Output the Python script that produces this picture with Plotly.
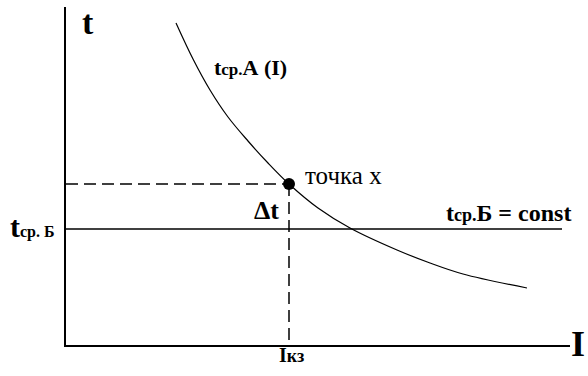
import plotly.graph_objects as go

# curve t_cp.A(I) (arbitrary units)
I_curve = [110, 127, 144, 162, 182, 202, 223, 252, 284, 331, 364, 397, 461]
t_curve = [322, 286, 255, 228, 204, 182, 161, 137, 117, 95, 82, 71, 57]

t_B = 116          # t_cp.Б = const
I_kz = 223         # point x
t_x = 161
I_end = 496

SERIF = "Liberation Serif"

fig = go.Figure()

# constant line
fig.add_trace(go.Scatter(x=[0, I_end], y=[t_B, t_B], mode="lines",
                         line=dict(color="black", width=1.5), cliponaxis=False))
# dashed guides
fig.add_trace(go.Scatter(x=[0, I_kz], y=[t_x, t_x], mode="lines",
                         line=dict(color="black", width=1.5, dash="12px,6px")))
fig.add_trace(go.Scatter(x=[I_kz, I_kz], y=[t_x, 0], mode="lines",
                         line=dict(color="black", width=1.5, dash="12px,6px")))
# curve
fig.add_trace(go.Scatter(x=I_curve, y=t_curve, mode="lines", line_shape="spline",
                         line=dict(color="black", width=1.2), cliponaxis=False))
# point x
fig.add_trace(go.Scatter(x=[I_kz], y=[t_x], mode="markers",
                         marker=dict(color="black", size=12), cliponaxis=False))


def note(x, y, text, size, xanchor="center", xref="x", yref="y"):
    fig.add_annotation(x=x, y=y, text=text, showarrow=False, xanchor=xanchor,
                       xref=xref, yref=yref,
                       font=dict(family=SERIF, size=size, color="black"))


note(22, 323, "<b>t</b>", 34)
note(184, 278, "<b>t<span style='font-size:17px'>ср.</span>А (I)</b>", 22)
note(237, 170, "точка x", 25, xanchor="left")
note(200, 135, "<b>Δt</b>", 26)
note(442, 132, "<b>t<span style='font-size:18px'>ср.</span>Б = const</b>", 24)
note(-0.018, 0.352, "<b>t<span style='font-size:16px'>ср. Б</span></b>", 30,
     xanchor="right", xref="paper", yref="paper")
note(225, -0.068, "<b>I<span style='font-size:18px'>кз</span></b>", 20, yref="paper")
note(1.034, -0.062, "<b>I</b>", 36, xanchor="right", xref="paper", yref="paper")

fig.update_layout(
    width=588, height=376,
    margin=dict(l=66, r=18, t=7, b=31),
    plot_bgcolor="white", paper_bgcolor="white",
    showlegend=False,
    xaxis=dict(range=[0, 504], showgrid=False, zeroline=False, showticklabels=False,
               ticks="", showline=True, linecolor="black", linewidth=2),
    yaxis=dict(range=[0, 338], showgrid=False, zeroline=False, showticklabels=False,
               ticks="", showline=True, linecolor="black", linewidth=2),
)

fig.write_html("out.html", config={"displayModeBar": False},
               post_script="document.body.style.margin='0';")
